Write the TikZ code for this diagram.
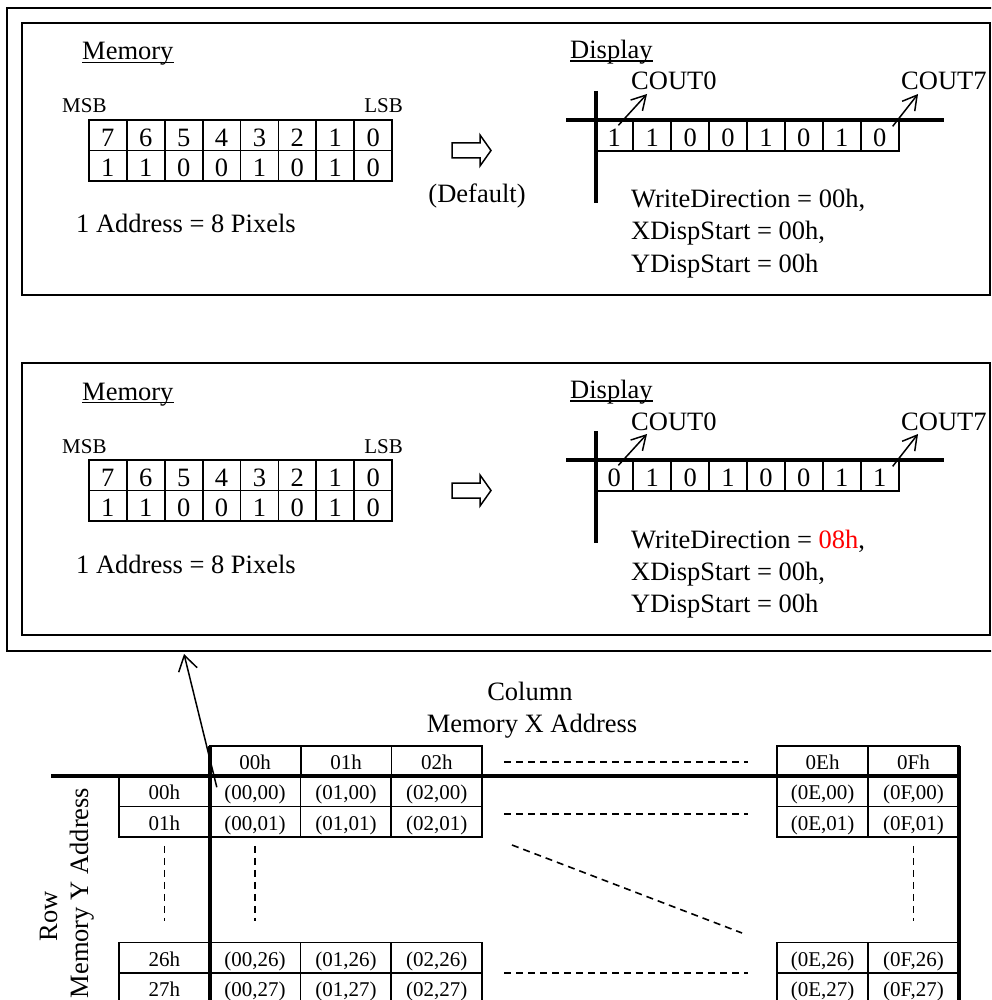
\documentclass[tikz,border=0pt]{standalone}
\usepackage{fontspec}
\setmainfont{Liberation Serif}
\usetikzlibrary{matrix,arrows.meta}
\newcommand\fsmain{\fontsize{26.5}{30}\selectfont}
\newcommand\fssmall{\fontsize{21}{24}\selectfont}
\tikzset{
  bitcell/.style={draw=black, line width=1.8pt, minimum width=37.9pt, minimum height=30.5pt, inner sep=0pt, text height=22pt, text depth=0pt, anchor=center, font=\fsmain},
  addrcell/.style={draw=black, line width=1.8pt, minimum width=90.8pt, minimum height=30.5pt, inner sep=0pt, text height=16.5pt, text depth=0pt, anchor=center, font=\fssmall},
  tbl/.style={matrix of nodes, inner sep=0pt, row sep=-1.8pt, column sep=-1.8pt},
  panel/.style={draw=black, line width=2pt, inner sep=0pt, anchor=north west},
  txt/.style={inner sep=0pt, font=\fsmain, anchor=base west},
  small/.style={inner sep=0pt, font=\fssmall, anchor=base west},
  axis/.style={line width=4pt},
  barb/.style={line width=1.5pt, -{Straight Barb[length=14pt,width=16pt]}},
  dots/.style={line width=1.6pt, dash pattern=on 7pt off 5pt}
}

\begin{document}
\begin{tikzpicture}[x=1pt, y=-1pt]
  \clip (0,0) rectangle (991,1000);
  \node[panel, minimum width=994pt, minimum height=643pt] (frame) at (6,7) {};
  \node[panel, minimum width=968pt, minimum height=272pt] (panelA) at (21,22) {};
  \node[panel, minimum width=968pt, minimum height=272pt] (panelB) at (21,362) {};

  % default write direction
  \node[txt] (memA) at (82,60) {Memory};
  \draw[line width=1.2pt] ([yshift=-2.5pt]memA.base west) -- ([yshift=-2.5pt]memA.base east);
  \node[small] (msbA) at (62,113) {MSB};
  \node[small, anchor=base east] (lsbA) at (403,113) {LSB};
  \matrix[tbl, nodes={bitcell}] (bitsA) at (240.5,150.5) {
    7 & 6 & 5 & 4 & 3 & 2 & 1 & 0 \\
    1 & 1 & 0 & 0 & 1 & 0 & 1 & 0 \\
  };
  \node[txt] (addrA) at (76,233) {1 Address = 8 Pixels};
  \draw[line width=1.5pt] (452,143) -- (480,143) -- (480,135) -- (491,150.5) -- (480,166) -- (480,158) -- (452,158) -- cycle;
  \node[txt, anchor=base] (dflt) at (477,203) {(Default)};
  \node[txt] (dispA) at (570,58.5) {Display};
  \draw[line width=1.2pt] ([yshift=-2.5pt]dispA.base west) -- ([yshift=-2.5pt]dispA.base east);
  \node[txt] (c0A) at (631,90) {COUT0};
  \node[txt] (c7A) at (901,90) {COUT7};
  \matrix[tbl, nodes={bitcell}] (pixA) at (747,135.5) {
    1 & 1 & 0 & 0 & 1 & 0 & 1 & 0 \\
  };
  \draw[axis] (596,91) -- (596,203);
  \draw[axis] (566,120) -- (944,120);
  \draw[barb] ([xshift=4pt,yshift=-6pt]pixA-1-1.north) -- ([xshift=16pt,yshift=-4pt]c0A.base west);
  \draw[barb] ([xshift=13pt,yshift=-7pt]pixA-1-8.north) -- ([xshift=17pt,yshift=-4pt]c7A.base west);
  \node[txt] (wdA) at (631,208) {WriteDirection = 00h,};
  \node[txt] (xsA) at (631,240) {XDispStart = 00h,};
  \node[txt] (ysA) at (631,272) {YDispStart = 00h};

  % mirrored write direction
  \node[txt] (memB) at (82,400) {Memory};
  \draw[line width=1.2pt] ([yshift=-2.5pt]memB.base west) -- ([yshift=-2.5pt]memB.base east);
  \node[small] (msbB) at (62,453) {MSB};
  \node[small, anchor=base east] (lsbB) at (403,453) {LSB};
  \matrix[tbl, nodes={bitcell}] (bitsB) at (240.5,490.5) {
    7 & 6 & 5 & 4 & 3 & 2 & 1 & 0 \\
    1 & 1 & 0 & 0 & 1 & 0 & 1 & 0 \\
  };
  \node[txt] (addrB) at (76,573) {1 Address = 8 Pixels};
  \draw[line width=1.5pt] (452,483) -- (480,483) -- (480,475) -- (491,490.5) -- (480,506) -- (480,498) -- (452,498) -- cycle;
  \node[txt] (dispB) at (570,398.5) {Display};
  \draw[line width=1.2pt] ([yshift=-2.5pt]dispB.base west) -- ([yshift=-2.5pt]dispB.base east);
  \node[txt] (c0B) at (631,430) {COUT0};
  \node[txt] (c7B) at (901,430) {COUT7};
  \matrix[tbl, nodes={bitcell}] (pixB) at (747,475.5) {
    0 & 1 & 0 & 1 & 0 & 0 & 1 & 1 \\
  };
  \draw[axis] (596,431) -- (596,543);
  \draw[axis] (566,460) -- (944,460);
  \draw[barb] ([xshift=4pt,yshift=-6pt]pixB-1-1.north) -- ([xshift=16pt,yshift=-4pt]c0B.base west);
  \draw[barb] ([xshift=13pt,yshift=-7pt]pixB-1-8.north) -- ([xshift=17pt,yshift=-4pt]c7B.base west);
  \node[txt] (wdB) at (631,548) {WriteDirection = \textcolor{red}{08h},};
  \node[txt] (xsB) at (631,580) {XDispStart = 00h,};
  \node[txt] (ysB) at (631,612) {YDispStart = 00h};

  % address map
  \node[txt, anchor=base] (colT) at (530,700) {Column};
  \node[txt, anchor=base] (colX) at (532,732) {Memory X Address};
  \node[txt, anchor=base, rotate=90] (rowT) at (57,916) {Row};
  \node[txt, anchor=base, rotate=90] (rowY) at (88,893) {Memory Y Address};
  \matrix[tbl, nodes={addrcell}] (hdL) at (346,761) {
    00h & 01h & 02h \\
  };
  \matrix[tbl, nodes={addrcell}] (hdR) at (868,761) {
    0Eh & 0Fh \\
  };
  \matrix[tbl, nodes={addrcell}] (topL) at (300.5,806.5) {
    00h & (00,00) & (01,00) & (02,00) \\
    01h & (00,01) & (01,01) & (02,01) \\
  };
  \matrix[tbl, nodes={addrcell}] (topR) at (868,806.5) {
    (0E,00) & (0F,00) \\
    (0E,01) & (0F,01) \\
  };
  \matrix[tbl, nodes={addrcell}] (botL) at (300.5,973) {
    26h & (00,26) & (01,26) & (02,26) \\
    27h & (00,27) & (01,27) & (02,27) \\
  };
  \matrix[tbl, nodes={addrcell}] (botR) at (868,973) {
    (0E,26) & (0F,26) \\
    (0E,27) & (0F,27) \\
  };
  \draw[axis] (51,776) -- (959,776);
  \draw[axis] (210,746) -- (210,1010);
  \draw[axis] (959,746) -- (959,1010);
  \draw[dots] ([yshift=-8pt]topL-2-1.south) -- ([yshift=21pt]botL-1-1.north);
  \draw[dots] ([yshift=-8pt]topL-2-2.south) -- ([yshift=21pt]botL-1-2.north);
  \draw[dots] ([yshift=-8pt]topR-2-2.south) -- ([yshift=21pt]botR-1-2.north);
  \draw[dots] (504,762) -- (748,762);
  \draw[dots] (504,814) -- (748,814);
  \draw[dots] (504,973) -- (748,973);
  \draw[dots] (512,845) -- (742,933);
  \draw[line width=1.5pt, -{Straight Barb[length=15pt,width=19pt]}] ([xshift=8pt,yshift=4pt]topL-1-2.west) -- ([xshift=178pt,yshift=-2pt]frame.south west);
\end{tikzpicture}
\end{document}
